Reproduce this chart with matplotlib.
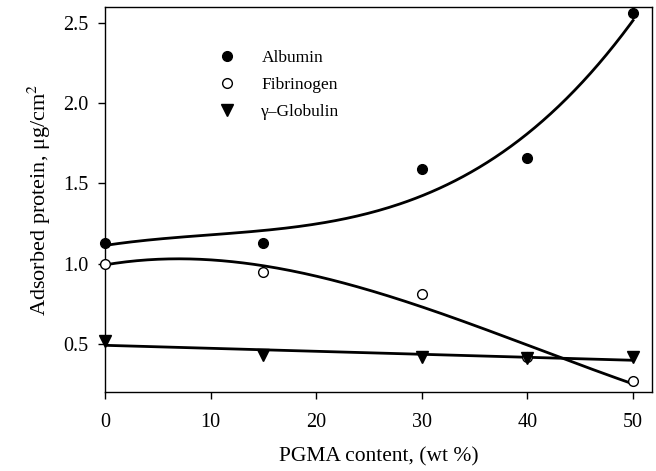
import matplotlib
matplotlib.use("Agg")
import matplotlib.pyplot as plt
import numpy as np

# PGMA content (wt %) and adsorbed protein (ug/cm2)
pgma = np.array([0, 15, 30, 40, 50])
albumin = np.array([1.13, 1.13, 1.59, 1.66, 2.56])
fibrinogen = np.array([1.00, 0.95, 0.81, 0.42, 0.27])
globulin = np.array([0.52, 0.43, 0.42, 0.41, 0.42])

plt.rcParams['font.family'] = ['Liberation Serif', 'DejaVu Serif']
plt.rcParams['mathtext.fontset'] = 'stix'

fig = plt.figure(figsize=(6.56, 4.71), dpi=100)
ax = fig.add_axes([0.160, 0.168, 0.834, 0.817])

# Best-fit curves (albumin, fibrinogen cubic; globulin linear)
xf = np.linspace(0, 50, 200)
fit_alb = np.poly1d(np.polyfit(pgma, albumin, 3))
fit_fib = np.poly1d(np.polyfit(pgma, fibrinogen, 3))
fit_glo = np.poly1d(np.polyfit(pgma, globulin, 1))
for f in (fit_alb, fit_fib, fit_glo):
    ax.plot(xf, f(xf), color='black', lw=2.0, zorder=2)

ax.plot(pgma, albumin, 'o', color='black', ms=7, label='Albumin', zorder=3, clip_on=False)
ax.plot(pgma, fibrinogen, 'o', mfc='white', mec='black', mew=1.0, ms=7,
        label='Fibrinogen', zorder=3, clip_on=False)
ax.plot(pgma, globulin, 'v', color='black', ms=8, label='\u03b3\u2013Globulin',
        zorder=3, clip_on=False)

ax.set_xlim(0, 51.8)
ax.set_ylim(0.2, 2.6)
ax.set_xticks([0, 10, 20, 30, 40, 50])
ax.set_yticks([0.5, 1.0, 1.5, 2.0, 2.5])
ax.set_yticklabels(['0.5', '1.0', '1.5', '2.0', '2.5'])
ax.tick_params(labelsize=14.5, length=5, width=1, direction='out', pad=7)
ax.tick_params(axis='x', pad=10)
for s in ax.spines.values():
    s.set_linewidth(1.0)

ax.set_xlabel('PGMA content, (wt %)', fontsize=15.5, labelpad=11)
ax.set_ylabel('Adsorbed protein, \u03bcg/cm$^2$', fontsize=16, labelpad=7)

ax.legend(loc='upper left', bbox_to_anchor=(0.178, 0.93), frameon=False,
          fontsize=12.5, handlelength=1.0, handletextpad=1.5, labelspacing=0.62,
          numpoints=1)

fig.savefig('out.png', dpi=100)
